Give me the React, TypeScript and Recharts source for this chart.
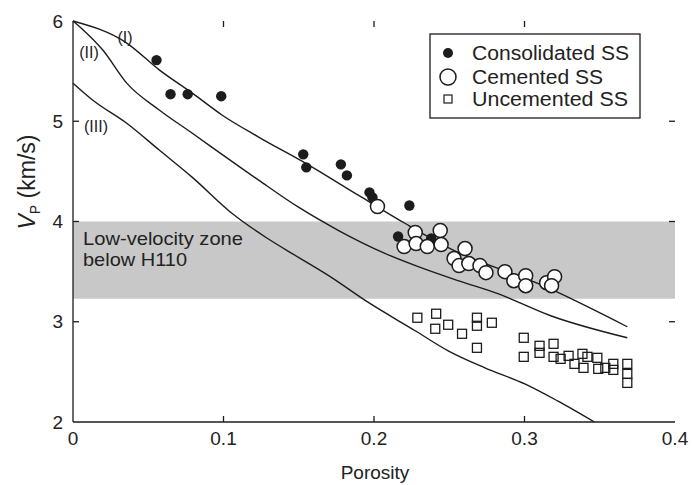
import React from 'react';
import { ComposedChart, Scatter, Line, XAxis, YAxis, ReferenceArea } from 'recharts';

// axis ticks
const xTicks = [0, 0.1, 0.2, 0.3, 0.4];
const yTicks = [2, 3, 4, 5, 6];
const xDomain: [number, number] = [0, 0.4];
const yDomain: [number, number] = [2, 6];

// low-velocity zone (km/s)
const zoneBottom = 3.23;
const zoneTop = 4.0;

// [porosity, Vp]
const consolidatedSS: [number, number][] = [
  [0.0555, 5.61], [0.0648, 5.27], [0.0762, 5.27], [0.0985, 5.25],
  [0.153, 4.67], [0.155, 4.54], [0.178, 4.57], [0.182, 4.46],
  [0.197, 4.29], [0.199, 4.24], [0.2235, 4.16], [0.216, 3.85], [0.238, 3.83],
];

const cementedSS: [number, number][] = [
  [0.2023, 4.15], [0.2274, 3.89], [0.244, 3.91], [0.22, 3.75], [0.228, 3.78],
  [0.2354, 3.75], [0.2446, 3.77], [0.2605, 3.73], [0.2532, 3.63], [0.2565, 3.56],
  [0.263, 3.58], [0.2704, 3.56], [0.2744, 3.49], [0.287, 3.5], [0.2929, 3.41],
  [0.3008, 3.46], [0.3008, 3.36], [0.3147, 3.39], [0.32, 3.45], [0.318, 3.36],
];

const uncementedSS: [number, number][] = [
  [0.2288, 3.04], [0.2413, 3.08], [0.2407, 2.93], [0.2493, 2.97], [0.2585, 2.88],
  [0.2684, 3.04], [0.2684, 2.96], [0.2783, 2.99], [0.2684, 2.74], [0.2995, 2.84],
  [0.2995, 2.65], [0.31, 2.76], [0.31, 2.69], [0.3193, 2.78], [0.3193, 2.65],
  [0.324, 2.63], [0.3293, 2.66], [0.3332, 2.58], [0.3385, 2.68], [0.3392, 2.54],
  [0.3418, 2.65], [0.3484, 2.64], [0.349, 2.53], [0.3537, 2.54], [0.359, 2.58],
  [0.359, 2.52], [0.3683, 2.58], [0.3683, 2.48], [0.3683, 2.39],
];

// model curves
const curveI: [number, number][] = [
  [0, 6.0], [0.0357, 5.78], [0.0575, 5.51], [0.0793, 5.28], [0.0992, 5.06],
  [0.1236, 4.84], [0.1547, 4.58], [0.1898, 4.26], [0.2208, 3.98], [0.2493, 3.74],
  [0.3154, 3.34], [0.3683, 2.95],
];
const curveII: [number, number][] = [
  [0, 6.0], [0.0046, 5.94], [0.0198, 5.71], [0.0357, 5.38], [0.0575, 5.11],
  [0.0793, 4.88], [0.1018, 4.64], [0.1236, 4.41], [0.1501, 4.14], [0.1765, 3.91],
  [0.2076, 3.68], [0.2294, 3.55], [0.2559, 3.41], [0.2823, 3.28], [0.3174, 3.06],
  [0.3683, 2.84],
];
const curveIII: [number, number][] = [
  [0, 5.38], [0.0132, 5.21], [0.0357, 4.98], [0.0575, 4.71], [0.0793, 4.44],
  [0.1058, 4.08], [0.1283, 3.84], [0.1501, 3.64], [0.1719, 3.44], [0.1944, 3.21],
  [0.2274, 2.91], [0.2493, 2.71], [0.2737, 2.54], [0.3002, 2.38], [0.322, 2.21],
  [0.3464, 2.0],
];

const legendLabels = ['Consolidated SS', 'Cemented SS', 'Uncemented SS'];
const curveLabels = ['(I)', '(II)', '(III)'];

const toRows = (arr: [number, number][]) => arr.map(([p, v]) => ({ p, v }));

const INK = '#1c1c1c';
const FONT = '"Liberation Sans", Arial, Helvetica, sans-serif';

// chart geometry
const W = 692;
const H = 485;
const MARGIN = { top: 21, right: 17, bottom: 33, left: 33 };
const Y_AXIS_W = 40;
const X_AXIS_H = 30;
const plotLeft = MARGIN.left + Y_AXIS_W;
const plotRight = W - MARGIN.right;
const plotTop = MARGIN.top;
const plotBottom = H - MARGIN.bottom - X_AXIS_H;
const sx = (p: number) => plotLeft + ((p - xDomain[0]) / (xDomain[1] - xDomain[0])) * (plotRight - plotLeft);
const sy = (v: number) => plotBottom - ((v - yDomain[0]) / (yDomain[1] - yDomain[0])) * (plotBottom - plotTop);
const TL = 6;

const FilledDot = (props: any) => <circle cx={props.cx} cy={props.cy} r={5.2} fill={INK} />;
const OpenDot = (props: any) => (
  <circle cx={props.cx} cy={props.cy} r={7} fill="#fff" stroke={INK} strokeWidth={1.5} />
);
const SquareDot = (props: any) => (
  <rect x={props.cx - 4.5} y={props.cy - 4.5} width={9} height={9} fill="none" stroke={INK} strokeWidth={1.3} />
);

export default function App() {
  const innerX = xTicks.slice(1, -1);
  const innerY = yTicks.slice(1, -1);
  return (
    <div style={{ position: 'absolute', left: 0, top: 0, width: W, height: H, background: '#fff', fontFamily: FONT }}>
      <ComposedChart width={W} height={H} margin={MARGIN}>
        <XAxis
          xAxisId="b"
          type="number"
          dataKey="p"
          domain={xDomain}
          ticks={xTicks}
          interval={0}
          height={X_AXIS_H}
          tickSize={-6}
          tickMargin={16}
          axisLine={{ stroke: INK, strokeWidth: 1.3 }}
          tickLine={false}
          tick={{ fill: '#222', fontSize: 19, fontFamily: FONT }}
        />
        <XAxis
          xAxisId="t"
          orientation="top"
          type="number"
          dataKey="p"
          domain={xDomain}
          ticks={xTicks}
          height={0}
          tick={false}
          tickLine={false}
          axisLine={{ stroke: INK, strokeWidth: 1.3 }}
        />
        <YAxis
          yAxisId="l"
          type="number"
          dataKey="v"
          domain={yDomain}
          ticks={yTicks}
          interval={0}
          width={Y_AXIS_W}
          tickSize={-6}
          tickMargin={16}
          axisLine={{ stroke: INK, strokeWidth: 1.3 }}
          tickLine={false}
          tick={{ fill: '#222', fontSize: 19, fontFamily: FONT }}
        />
        <YAxis
          yAxisId="r"
          orientation="right"
          type="number"
          dataKey="v"
          domain={yDomain}
          ticks={yTicks}
          width={0}
          tick={false}
          tickLine={false}
          axisLine={{ stroke: INK, strokeWidth: 1.3 }}
        />
        <ReferenceArea xAxisId="b" yAxisId="l" x1={xDomain[0]} x2={xDomain[1]} y1={zoneBottom} y2={zoneTop} fill="#c8c8c8" fillOpacity={1} stroke="none" />
        <Line xAxisId="b" yAxisId="l" data={toRows(curveI)} dataKey="v" type="monotone" stroke={INK} strokeWidth={1.4} dot={false} isAnimationActive={false} />
        <Line xAxisId="b" yAxisId="l" data={toRows(curveII)} dataKey="v" type="monotone" stroke={INK} strokeWidth={1.4} dot={false} isAnimationActive={false} />
        <Line xAxisId="b" yAxisId="l" data={toRows(curveIII)} dataKey="v" type="monotone" stroke={INK} strokeWidth={1.4} dot={false} isAnimationActive={false} />
        <Scatter xAxisId="b" yAxisId="l" data={toRows(uncementedSS)} dataKey="v" shape={SquareDot} isAnimationActive={false} />
        <Scatter xAxisId="b" yAxisId="l" data={toRows(consolidatedSS)} dataKey="v" shape={FilledDot} isAnimationActive={false} />
        <Scatter xAxisId="b" yAxisId="l" data={toRows(cementedSS)} dataKey="v" shape={OpenDot} isAnimationActive={false} />
      </ComposedChart>
      <svg width={W} height={H} style={{ position: 'absolute', left: 0, top: 0, pointerEvents: 'none' }}>
        <g stroke={INK} strokeWidth={1.3}>
          {innerX.map((t) => (
            <line key={'b' + t} x1={sx(t)} x2={sx(t)} y1={plotBottom} y2={plotBottom - TL} />
          ))}
          {innerX.map((t) => (
            <line key={'t' + t} x1={sx(t)} x2={sx(t)} y1={plotTop} y2={plotTop + TL} />
          ))}
          {innerY.map((t) => (
            <line key={'l' + t} x1={plotLeft} x2={plotLeft + TL} y1={sy(t)} y2={sy(t)} />
          ))}
          {innerY.map((t) => (
            <line key={'r' + t} x1={plotRight} x2={plotRight - TL} y1={sy(t)} y2={sy(t)} />
          ))}
        </g>
        <g fontFamily={FONT} fill="#222">
          <text x={125} y={43} fontSize={16} textAnchor="middle">{curveLabels[0]}</text>
          <text x={89} y={58} fontSize={16} textAnchor="middle">{curveLabels[1]}</text>
          <text x={96} y={132} fontSize={16} textAnchor="middle">{curveLabels[2]}</text>
          <text x={83} y={245} fontSize={19} textLength={160} lengthAdjust="spacingAndGlyphs">Low-velocity zone</text>
          <text x={83} y={266} fontSize={19} textLength={104} lengthAdjust="spacingAndGlyphs">below H110</text>
          <text x={375} y={479} fontSize={19} textAnchor="middle">Porosity</text>
          <text transform="translate(35,182) rotate(-90)" fontSize={23} textAnchor="middle">
            <tspan fontStyle="italic">V</tspan>
            <tspan fontSize={14} dy={5}>P</tspan>
            <tspan dy={-5}> (km/s)</tspan>
          </text>
        </g>
        <g>
          <rect x={430} y={34} width={210} height={84} fill="#fff" stroke={INK} strokeWidth={1.3} />
          <circle cx={448} cy={53} r={5} fill={INK} />
          <circle cx={448} cy={77} r={8} fill="#fff" stroke={INK} strokeWidth={1.5} />
          <rect x={444} y={95} width={8} height={8} fill="none" stroke={INK} strokeWidth={1.2} />
          <g fontFamily={FONT} fill="#222" fontSize={20}>
            <text x={472} y={60} textLength={157} lengthAdjust="spacingAndGlyphs">{legendLabels[0]}</text>
            <text x={472} y={84} textLength={131} lengthAdjust="spacingAndGlyphs">{legendLabels[1]}</text>
            <text x={472} y={106} textLength={156} lengthAdjust="spacingAndGlyphs">{legendLabels[2]}</text>
          </g>
        </g>
      </svg>
    </div>
  );
}
